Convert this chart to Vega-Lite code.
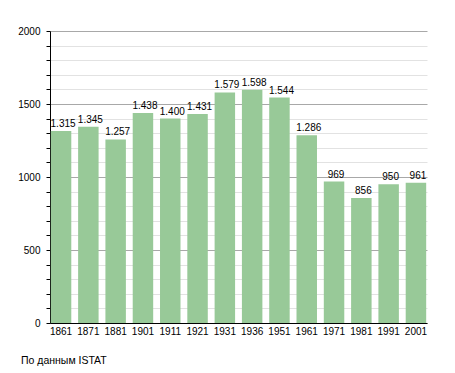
{
  "$schema": "https://vega.github.io/schema/vega-lite/v6.json",
  "width": 377,
  "height": 292,
  "autosize": {"type": "none"},
  "padding": {"left": 50, "top": 31, "right": 28, "bottom": 50},
  "background": "white",
  "config": {
    "locale": {"number": {"decimal": ",", "thousands": ".", "grouping": [3], "currency": ["", "€"]}},
    "font": "Liberation Sans",
    "view": {"stroke": null}
  },
  "title": {
    "text": "По данным  ISTAT",
    "orient": "bottom",
    "anchor": "start",
    "frame": "group",
    "dx": -29,
    "offset": 20,
    "fontSize": 10.5,
    "fontWeight": "normal",
    "color": "#000"
  },
  "data": {
    "values": [
      {"year": "1861", "pop": 1315},
      {"year": "1871", "pop": 1345},
      {"year": "1881", "pop": 1257},
      {"year": "1901", "pop": 1438},
      {"year": "1911", "pop": 1400},
      {"year": "1921", "pop": 1431},
      {"year": "1931", "pop": 1579},
      {"year": "1936", "pop": 1598},
      {"year": "1951", "pop": 1544},
      {"year": "1961", "pop": 1286},
      {"year": "1971", "pop": 969},
      {"year": "1981", "pop": 856},
      {"year": "1991", "pop": 950},
      {"year": "2001", "pop": 961}
    ]
  },
  "encoding": {
    "x": {
      "field": "year",
      "type": "ordinal",
      "sort": null,
      "scale": {"paddingInner": 0.25, "paddingOuter": 0.03},
      "axis": {
        "title": null,
        "labelAngle": 0,
        "ticks": false,
        "labelPadding": 3,
        "labelFontSize": 10,
        "labelColor": "#000",
        "domainColor": "#000",
        "grid": false
      }
    },
    "y": {
      "field": "pop",
      "type": "quantitative",
      "scale": {"domain": [0, 2000], "nice": false},
      "axis": {
        "title": null,
        "values": [0, 100, 200, 300, 400, 500, 600, 700, 800, 900, 1000, 1100, 1200, 1300, 1400, 1500, 1600, 1700, 1800, 1900, 2000],
        "format": "d",
        "labelExpr": "datum.value % 500 === 0 ? datum.label : ''",
        "labelFontSize": 10,
        "labelColor": "#000",
        "labelPadding": 6,
        "tickSize": 4,
        "tickColor": "#000",
        "domainColor": "#000",
        "grid": true,
        "gridColor": {"condition": {"test": "datum.value % 500 === 0", "value": "#a8a8a8"}, "value": "#e2e2e2"},
        "zindex": 0
      }
    }
  },
  "layer": [
    {"mark": {"type": "bar", "color": "#98c998"}},
    {
      "mark": {"type": "text", "baseline": "bottom", "dy": -2, "dx": 2, "fontSize": 10, "color": "#000"},
      "encoding": {"text": {"field": "pop", "type": "quantitative", "format": ",d"}}
    }
  ]
}
